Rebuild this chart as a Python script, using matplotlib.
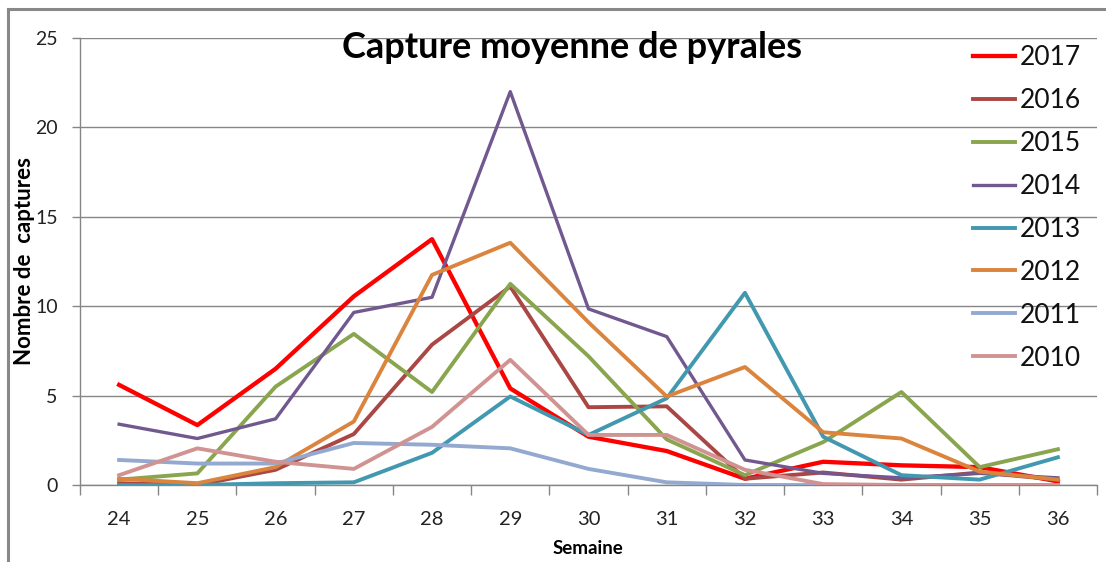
import matplotlib
matplotlib.use("Agg")
import matplotlib.pyplot as plt
from matplotlib.lines import Line2D

weeks = ["24", "25", "26", "27", "28", "29", "30", "31", "32", "33", "34", "35", "36"]
years = ["2017", "2016", "2015", "2014", "2013", "2012", "2011", "2010"]

y2017 = [5.6, 3.35, 6.5, 10.55, 13.75, 5.4, 2.7, 1.9, 0.35, 1.3, 1.1, 1.0, 0.2]
y2016 = [0.1, 0.0, 0.85, 2.85, 7.85, 11.1, 4.35, 4.4, 0.35, 0.7, 0.3, 0.7, 0.3]
y2015 = [0.3, 0.65, 5.5, 8.45, 5.2, 11.25, 7.2, 2.55, 0.55, 2.4, 5.2, 1.0, 2.0]
y2014 = [3.4, 2.6, 3.7, 9.65, 10.5, 22.0, 9.85, 8.3, 1.4, 0.65, 0.4, 0.65, 0.4]
y2013 = [0.0, 0.0, 0.1, 0.15, 1.8, 4.95, 2.8, 4.85, 10.75, 2.7, 0.55, 0.3, 1.55]
y2012 = [0.35, 0.1, 1.0, 3.55, 11.75, 13.55, 9.1, 4.95, 6.6, 2.95, 2.6, 0.75, 0.3]
y2011 = [1.4, 1.2, 1.2, 2.35, 2.25, 2.05, 0.9, 0.15, 0.0, 0.0, 0.0, 0.0, 0.0]
y2010 = [0.55, 2.05, 1.3, 0.9, 3.25, 7.0, 2.8, 2.8, 0.85, 0.05, 0.0, 0.0, 0.0]

series = [y2017, y2016, y2015, y2014, y2013, y2012, y2011, y2010]
colors = ["#FF0000", "#AA4643", "#89A54E", "#71588F", "#4198AF", "#DB843D", "#93A9CF", "#D19392"]
widths = [3.1, 2.8, 2.8, 2.4, 2.8, 2.8, 2.8, 2.8]

fam = ["Lato", "DejaVu Sans"]

fig = plt.figure(figsize=(11.06, 5.62), dpi=100)
ax = fig.add_axes([80 / 1106, 77 / 562, 1017 / 1106, 447 / 562])

x = list(range(len(weeks)))
for yr, vals, c, w in zip(years, series, colors, widths):
    ax.plot(x, vals, color=c, lw=w, label=yr, zorder=3)

ax.set_xlim(-0.5, len(weeks) - 0.5)
ax.set_ylim(0, 25)
ax.set_yticks([0, 5, 10, 15, 20, 25])
ax.set_yticklabels(["0", "5", "10", "15", "20", "25"], family=fam, fontsize=14, color="#222222")
ax.set_xticks(x)
ax.set_xticklabels(weeks, family=fam, fontsize=14.5, color="#222222")
ax.set_xticks([i - 0.5 for i in range(len(weeks) + 1)], minor=True)
ax.tick_params(axis="x", which="major", length=0, pad=19)
ax.tick_params(axis="x", which="minor", length=7, width=1, color="#868686", direction="out")
ax.tick_params(axis="y", length=6, width=1, color="#868686", pad=10)

ax.grid(axis="y", which="major", color="#868686", lw=1)
ax.set_axisbelow(True)
for s in ["top", "right"]:
    ax.spines[s].set_visible(False)
for s in ["left", "bottom"]:
    ax.spines[s].set_color("#868686")
    ax.spines[s].set_linewidth(1)

ax.set_xlabel("Semaine", family=fam, fontweight="bold", fontsize=13.5)
ax.xaxis.set_label_coords(0.4995, -0.123)
ax.set_ylabel("Nombre de  captures", family=fam, fontweight="bold", fontsize=16)
ax.yaxis.set_label_coords(-0.055, 0.501)
ax.yaxis.label.set_va("center")

fig.text(572 / 1106, 1 - 58 / 562, "Capture moyenne de pyrales", ha="center", va="baseline",
         family=fam, fontweight="bold", fontsize=26)

leg = ax.legend(loc="upper left", bbox_to_anchor=(973 / 1106, 1 - 45 / 562),
                bbox_transform=fig.transFigure, frameon=False,
                prop={"family": fam, "size": 19}, handlelength=1.6,
                handletextpad=0.19, labelspacing=0.68, borderaxespad=0, borderpad=0)
for t in leg.get_texts():
    t.set_color("#111111")

fig.add_artist(Line2D([8 / 1106, 8 / 1106], [0, 1 - 9 / 562], transform=fig.transFigure,
                      color="#888888", lw=2.2))
fig.add_artist(Line2D([8 / 1106, 1], [1 - 9 / 562, 1 - 9 / 562], transform=fig.transFigure,
                      color="#888888", lw=2.2))

fig.savefig("out.png", dpi=100)
